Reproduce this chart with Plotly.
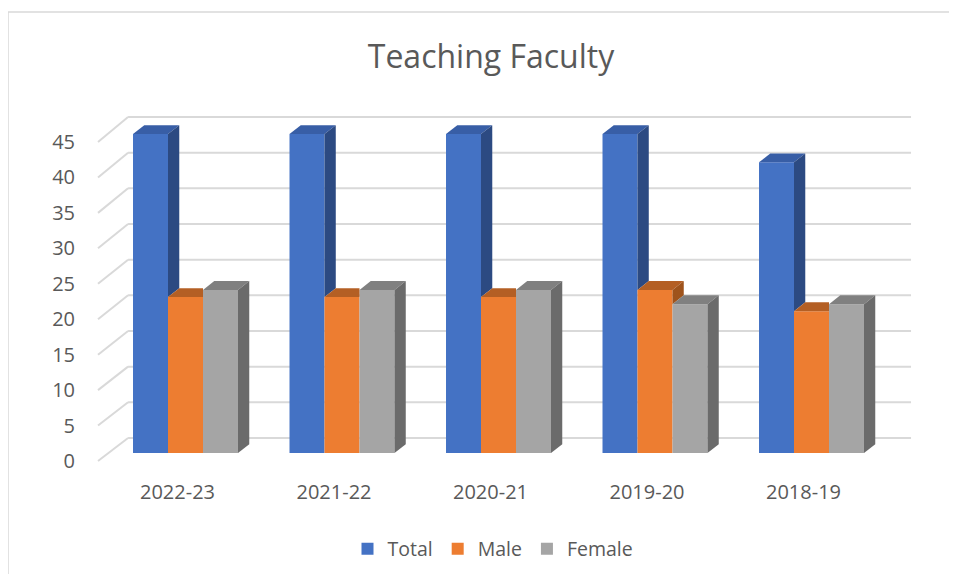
import plotly.graph_objects as go

# ---------------- data ----------------
categories = ["2022-23", "2021-22", "2020-21", "2019-20", "2018-19"]
total = [45, 45, 45, 45, 41]
male = [22, 22, 22, 23, 20]
female = [23, 23, 23, 21, 21]
y_tick_values = [0, 5, 10, 15, 20, 25, 30, 35, 40, 45]
series_names = ["Total", "Male", "Female"]

# ---------------- styling / geometry ----------------
FRONT_COLORS = ["#4472C4", "#ED7D31", "#A5A5A5"]
TOP_COLORS = ["#385EA6", "#B45F24", "#808080"]
SIDE_COLORS = ["#2C4A82", "#9E531C", "#6B6B6B"]
TEXT = "#595959"
GRID = "#D9D9D9"
FONT = "Open Sans"

PAGE = 8                      # browser body margin on each side
W_PX, H_PX = 957 - 2 * PAGE, 582 - 2 * PAGE
PLOT_L, PLOT_R, PLOT_T, PLOT_B = 80, 930, 100, 470   # plot area in page pixels
L = PLOT_L - PAGE
T = PLOT_T - PAGE
R = W_PX - (PLOT_R - PAGE)
B = H_PX - (PLOT_B - PAGE)
BAR_W = 0.2236          # bar width in x units
DX, DY = 0.072, 1.25    # depth offset of the 3D faces (x units, y units)
BACK_B, BACK_K = 2.116, 1.0063   # back wall level of a value v: BACK_B + BACK_K*v
FRONT_B = -1.129                 # front edge level of a value v: v + FRONT_B
WALL_FX, WALL_BX, WALL_RX = -0.559, -0.367, 4.636
LABEL_SHIFT = -0.051

values = [total, male, female]

fig = go.Figure()

# front faces: real bar traces
for j, (name, vals) in enumerate(zip(series_names, values)):
    fig.add_trace(go.Bar(
        name=name,
        x=list(range(len(categories))),
        y=vals,
        width=BAR_W,
        offset=(j - 1.5) * BAR_W,
        marker=dict(color=FRONT_COLORS[j], line=dict(width=0)),
        hoverinfo="skip",
    ))

shapes = []

def poly(points, color, layer="above"):
    d = "M " + " L ".join(f"{x},{y}" for x, y in points) + " Z"
    return dict(type="path", path=d, xref="x", yref="y", fillcolor=color,
                line=dict(width=0), layer=layer)

# back wall and side wall gridlines
for v in y_tick_values:
    yb = BACK_B + BACK_K * v
    yf = v + FRONT_B
    shapes.append(dict(type="line", xref="x", yref="y", x0=WALL_BX, x1=WALL_RX,
                       y0=yb, y1=yb, line=dict(color=GRID, width=2), layer="below"))
    shapes.append(dict(type="line", xref="x", yref="y", x0=WALL_FX, x1=WALL_BX,
                       y0=yf, y1=yb, line=dict(color=GRID, width=2), layer="below"))

# top and side faces of the bars
for i in range(len(categories)):
    for j in range(3):
        h = values[j][i]
        hn = values[j + 1][i] if j < 2 else None
        xl = i + (j - 1.5) * BAR_W
        xr = xl + BAR_W
        if hn is None or hn <= h:
            top = [(xl, h), (xr, h), (xr + DX, h + DY), (xl + DX, h + DY)]
        else:
            top = [(xl, h), (xr, h), (xr, h + DY), (xl + DX, h + DY)]
        shapes.append(poly(top, TOP_COLORS[j]))
        if hn is None:
            side = [(xr, 0), (xr, h), (xr + DX, h + DY), (xr + DX, DY)]
            shapes.append(poly(side, SIDE_COLORS[j]))
        elif h > hn:
            side = [(xr, hn), (xr, h), (xr + DX, h + DY), (xr + DX, hn + DY)]
            shapes.append(poly(side, SIDE_COLORS[j]))

# outer chart border (page pixel coords converted to paper coords), kept inside the figure
pw, ph = PLOT_R - PLOT_L, PLOT_B - PLOT_T
def px_x(x):
    return (x - PLOT_L) / pw
def px_y(y):
    return (PLOT_B - y) / ph

fig_right = PAGE + W_PX
fig_bottom = PAGE + H_PX
shapes.append(dict(type="line", xref="paper", yref="paper",
                   x0=px_x(8), x1=px_x(8), y0=px_y(12), y1=px_y(fig_bottom),
                   line=dict(color=GRID, width=1.5), layer="below"))
shapes.append(dict(type="line", xref="paper", yref="paper",
                   x0=px_x(8), x1=px_x(fig_right), y0=px_y(12), y1=px_y(12),
                   line=dict(color=GRID, width=1.5), layer="below"))

# data ranges from the reference pixel mapping
x_lo = (PLOT_L - 185.5) / 156.5
x_hi = (PLOT_R - 185.5) / 156.5
y_lo = (453 - PLOT_B) / 7.089
y_hi = (453 - PLOT_T) / 7.089

fig.update_layout(
    width=W_PX, height=H_PX,
    autosize=False,
    margin=dict(l=L, r=R, t=T, b=B, pad=0, autoexpand=False),
    paper_bgcolor="white", plot_bgcolor="white",
    barmode="overlay",
    shapes=shapes,
    font=dict(family=FONT, color=TEXT),
    title=dict(text="Teaching Faculty", x=(491 - PAGE) / W_PX, xanchor="center",
               xref="container", y=1 - (57 - PAGE) / H_PX, yanchor="middle",
               yref="container", font=dict(size=32, color=TEXT, family=FONT)),
    xaxis=dict(range=[x_lo, x_hi], showgrid=False, zeroline=False, showline=False,
               tickmode="array", tickvals=[i + LABEL_SHIFT for i in range(len(categories))],
               ticktext=categories, ticks="", ticklabelstandoff=8,
               tickfont=dict(size=20, color=TEXT, family=FONT), fixedrange=True),
    yaxis=dict(range=[y_lo, y_hi], showgrid=False, zeroline=False, showline=False,
               tickmode="array", tickvals=[v + FRONT_B for v in y_tick_values],
               ticktext=[str(v) for v in y_tick_values], ticks="", ticklabelstandoff=4,
               tickfont=dict(size=20, color=TEXT, family=FONT), fixedrange=True),
    legend=dict(orientation="h", x=px_x(493), xanchor="center",
                y=px_y(549), yanchor="middle",
                font=dict(size=19.5, color=TEXT, family=FONT),
                bgcolor="rgba(0,0,0,0)", itemclick=False, itemdoubleclick=False),
    showlegend=True,
)

fig.write_html("out.html")
